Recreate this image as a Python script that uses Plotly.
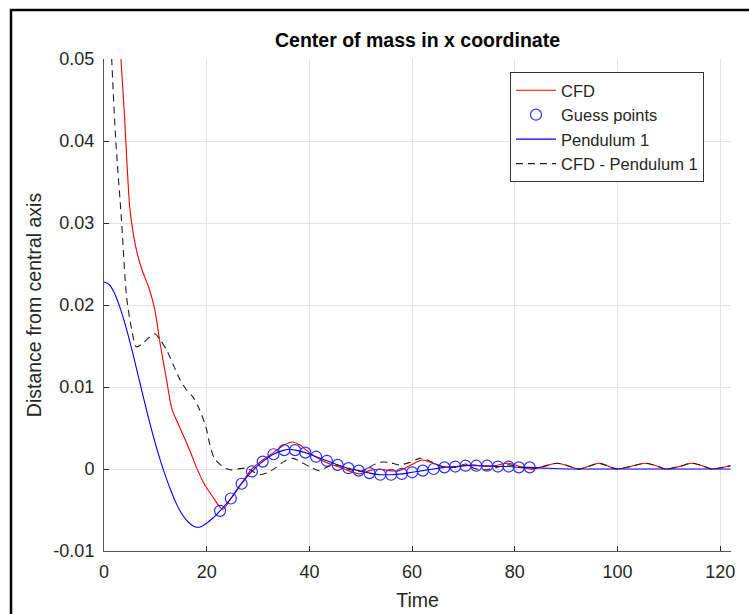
import plotly.graph_objects as go

# ---------------- data ----------------
cfd_t = [0, 1, 2, 3, 3.3, 4, 4.5, 5, 5.6, 6.5, 7.4, 8.9, 9.9, 10.9, 12.2, 13.2, 14.8, 16, 17, 18,
         19.5, 21.2, 22.5, 23.2, 24.7, 26.8, 28.8, 30.9, 33.0, 35.0, 36.7, 38.0, 40.0, 42.0, 44.0,
         46.0, 48.0, 49.7, 51.7, 53.6, 55.5, 57.5, 59.5, 62.0, 64.0, 66.0, 68.0, 70.0, 72.0, 74.0,
         76.0, 78.8, 81.0, 83.3, 85.5, 88.2, 90.3, 92.4, 94.3, 96.3, 98.0, 99.8, 102.5, 105.4,
         107.5, 109.3, 112.0, 114.4, 116.5, 118.3, 120.5, 122.0]
cfd_v = [0.095, 0.082, 0.068, 0.054, 0.050, 0.043, 0.037, 0.032, 0.0291, 0.0262, 0.0243, 0.0218,
         0.0194, 0.0154, 0.0108, 0.0074, 0.0050, 0.0033, 0.0018, 0.0002, -0.0018, -0.0034, -0.0046,
         -0.0049, -0.0036, -0.0017, 0.0000, 0.0011, 0.0020, 0.0029, 0.0033, 0.0030, 0.0020, 0.0012,
         0.0006, 0.0002, -0.0003, -0.0006, -0.0002, 0.0000, -0.0002, -0.0002, 0.0004, 0.0011,
         0.0007, 0.0003, 0.0002, 0.0004, 0.0005, 0.0003, 0.0004, 0.0007, 0.0003, 0.0000, 0.0003,
         0.0007, 0.0004, 0.0000, 0.0003, 0.0007, 0.0004, 0.0000, 0.0003, 0.0007, 0.0004, 0.0000,
         0.0003, 0.0007, 0.0004, 0.0000, 0.0002, 0.0004]

guess_t = [22.6, 24.7, 26.8, 28.8, 30.9, 33.0, 35.1, 37.2, 39.2, 41.3, 43.4, 45.5, 47.6, 49.6, 51.7,
           53.8, 55.9, 58.0, 60.0, 62.1, 64.2, 66.3, 68.4, 70.4, 72.5, 74.6, 76.7, 78.8, 80.8, 82.9]
guess_v = [-0.0051, -0.0036, -0.0018, -0.0003, 0.0009, 0.0018, 0.0023, 0.0023, 0.0020, 0.0015,
           0.0010, 0.0005, 0.0001, -0.0002, -0.0005, -0.0007, -0.0007, -0.0006, -0.0004, -0.0002,
           0.0000, 0.0002, 0.0003, 0.0004, 0.0004, 0.0004, 0.0003, 0.0003, 0.0002, 0.0002]

pend_t = [0, 1, 2, 3, 4, 5, 6, 7, 8, 9, 10, 11, 12, 13, 14, 15, 16, 17, 18, 19, 20, 21, 22,
          22.6, 24.7, 26.8, 28.8, 30.9, 33.0, 35.1, 36.2, 37.2, 39.2, 41.3, 43.4, 45.5, 47.6, 49.6,
          51.7, 53.8, 54.9, 55.9, 58.0, 60.0, 62.1, 64.2, 66.3, 68.4, 70.4, 72.5, 74.6, 76.7, 78.8,
          80.8, 82.9, 86.0, 90.0, 95.0, 100.0, 110.0, 122.0]
pend_v = [0.0228, 0.0225, 0.0215, 0.0199, 0.0179, 0.0156, 0.0131, 0.0105, 0.0079, 0.0054, 0.0031,
          0.0010, -0.0009, -0.0026, -0.0041, -0.0053, -0.0062, -0.0068, -0.0071, -0.0070, -0.0066,
          -0.0061, -0.0055, -0.0051, -0.0036, -0.0018, -0.0003, 0.0009, 0.0018, 0.0023, 0.0024,
          0.0023, 0.0020, 0.0015, 0.0010, 0.0005, 0.0001, -0.0002, -0.0005, -0.0007, -0.0007,
          -0.0007, -0.0006, -0.0004, -0.0002, 0.0000, 0.0002, 0.0003, 0.0004, 0.0004, 0.0004,
          0.0003, 0.0003, 0.0002, 0.0002, 0.0001, 0.0000, 0.0000, 0.0000, 0.0000, 0.0000]

diff_t = [0, 1, 1.5, 2.3, 3.4, 4.4, 5.4, 6.3, 7.5, 8.9, 9.9, 11.0, 12.2, 13.5, 14.8, 16.0, 17.3,
          18.5, 19.9, 20.6, 21.5, 22.9, 24.5, 26.0, 27.7, 29.0, 30.3, 32.0, 33.5, 35.0, 36.8, 38.5,
          40.6, 41.9, 43.0, 44.5, 46.0, 47.1, 49.7, 51.0, 53.6, 55.5, 57.5, 59.5, 61.5, 63.0, 65.0,
          67.0, 69.0, 70.5, 72.0, 74.3, 76.5, 78.8, 81.0, 83.3, 85.5, 88.2, 90.3, 92.4, 94.3, 96.3,
          98.0, 99.8, 102.5, 105.4, 107.5, 109.3, 112.0, 114.4, 116.5, 118.3, 120.5, 122.0]
diff_v = [0.072, 0.058, 0.050, 0.040, 0.0304, 0.0210, 0.0170, 0.0149, 0.0153, 0.0161, 0.0165,
          0.0157, 0.0145, 0.0127, 0.0109, 0.0097, 0.0088, 0.0074, 0.0050, 0.0030, 0.0013, 0.0004,
          -0.0001, 0.0000, 0.0001, -0.0003, -0.0007, -0.0004, 0.0002, 0.0009, 0.0013, 0.0008,
          0.0001, -0.0002, 0.0001, 0.0005, 0.0004, 0.0001, -0.0003, 0.0000, 0.0008, 0.0008, 0.0005,
          0.0008, 0.0013, 0.0011, 0.0005, 0.0001, 0.0003, 0.0006, 0.0001, -0.0001, 0.0002, 0.0005,
          0.0002, 0.0000, 0.0003, 0.0007, 0.0004, 0.0000, 0.0003, 0.0007, 0.0004, 0.0000, 0.0003,
          0.0007, 0.0004, 0.0000, 0.0003, 0.0007, 0.0004, 0.0000, 0.0002, 0.0004]

x_ticks = [0, 20, 40, 60, 80, 100, 120]
y_ticks = [-0.01, 0, 0.01, 0.02, 0.03, 0.04, 0.05]
y_tick_text = ["-0.01", "0", "0.01", "0.02", "0.03", "0.04", "0.05"]

# ---------------- figure ----------------
FONT = "Liberation Sans, Arial, sans-serif"
TXT = "#262626"

fig = go.Figure()
fig.add_trace(go.Scatter(x=cfd_t, y=cfd_v, mode="lines", name="CFD",
                         line=dict(color="#ff0000", width=1.1, shape="spline", smoothing=0.8)))
fig.add_trace(go.Scatter(x=guess_t, y=guess_v, mode="markers", name="Guess points",
                         marker=dict(symbol="circle-open", size=11, color="#3030ff",
                                     line=dict(width=1.2, color="#3030ff"))))
fig.add_trace(go.Scatter(x=pend_t, y=pend_v, mode="lines", name="Pendulum 1",
                         line=dict(color="#0000ff", width=1.1, shape="spline", smoothing=0.8)))
fig.add_trace(go.Scatter(x=diff_t, y=diff_v, mode="lines", name="CFD - Pendulum 1",
                         line=dict(color="#202020", width=1.1, dash="7px,5px",
                                   shape="spline", smoothing=0.8)))

W, H = 749, 614
L, R, T, B = 104, 18, 59, 63
pw, ph = W - L - R, H - T - B

def px(xp):
    return (xp - L) / pw

def py(yp):
    return (H - B - yp) / ph

fig.update_layout(
    width=W, height=H,
    margin=dict(l=L, r=R, t=T, b=B, autoexpand=False),
    paper_bgcolor="white", plot_bgcolor="white",
    font=dict(family=FONT, size=16, color=TXT),
    title=dict(text="<b>Center of mass in x coordinate</b>", x=0.5, xref="paper",
               y=1 - 40 / H, yref="container", yanchor="middle",
               font=dict(size=19.5, color="black", family=FONT)),
    showlegend=True,
    legend=dict(x=px(510), y=py(72), xanchor="left", yanchor="top",
                bgcolor="white", bordercolor="#333333", borderwidth=1,
                font=dict(size=16.5, color=TXT, family=FONT),
                tracegroupgap=0, itemwidth=40),
    xaxis=dict(range=[0, 122.1], tickvals=x_ticks, ticks="inside", ticklen=5,
               tickcolor=TXT, showline=True, linecolor="#555555", linewidth=1,
               showgrid=True, gridcolor="#e3e3e3", gridwidth=1, zeroline=False,
               tickfont=dict(size=18, color=TXT), ticklabelstandoff=4, automargin=False,
               title=dict(text="Time", font=dict(size=19.5, color=TXT), standoff=12)),
    yaxis=dict(range=[-0.01, 0.05], tickvals=y_ticks, ticktext=y_tick_text,
               ticks="inside", ticklen=5, tickcolor=TXT, showline=True,
               linecolor="#555555", linewidth=1, showgrid=True, gridcolor="#e3e3e3",
               gridwidth=1, zeroline=False, tickfont=dict(size=18, color=TXT),
               ticklabelstandoff=5, automargin=False,
               title=dict(text="Distance from central axis", font=dict(size=19.5, color=TXT),
                          standoff=6)),
    shapes=[dict(type="path", xref="paper", yref="paper",
                 path=f"M {px(11)},{py(H + 10)} L {px(11)},{py(10)} L {px(W + 10)},{py(10)}",
                 line=dict(color="black", width=2.5))],
)

fig.write_html("out.html")
